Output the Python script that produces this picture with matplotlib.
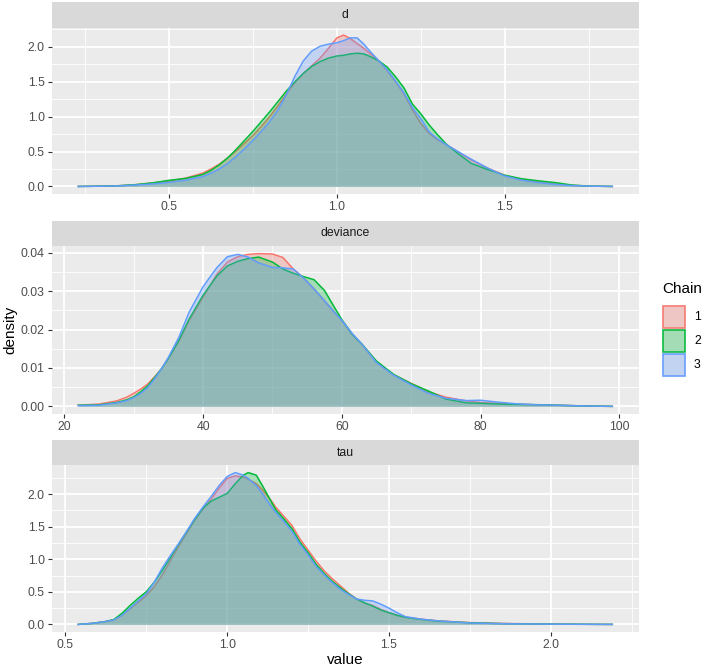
import matplotlib
matplotlib.use("Agg")
import matplotlib.pyplot as plt
from matplotlib.patches import Rectangle
from matplotlib.ticker import MultipleLocator, FormatStrFormatter
import numpy as np

plt.rcParams['font.family'] = ['Liberation Sans', 'DejaVu Sans']

# ---- data (density estimates per chain) ----
d_x = [0.23, 0.30, 0.35, 0.40, 0.45, 0.50, 0.55, 0.60, 0.625, 0.65, 0.675, 0.70,
       0.725, 0.75, 0.775, 0.80, 0.825, 0.85, 0.875, 0.90, 0.925, 0.95, 0.975,
       1.00, 1.02, 1.04, 1.06, 1.08, 1.10, 1.125, 1.15, 1.175, 1.20, 1.225, 1.25,
       1.275, 1.30, 1.325, 1.35, 1.375, 1.40, 1.45, 1.50, 1.55, 1.60, 1.65, 1.70,
       1.75, 1.82]
d_chain1 = [0.00, 0.005, 0.01, 0.025, 0.05, 0.077, 0.12, 0.19, 0.25, 0.32, 0.41, 0.51,
            0.62, 0.73, 0.86, 1.00, 1.16, 1.33, 1.49, 1.62, 1.73, 1.84, 1.98,
            2.13, 2.17, 2.12, 2.05, 1.98, 1.90, 1.80, 1.66, 1.50, 1.33, 1.10, 0.90,
            0.76, 0.67, 0.60, 0.53, 0.45, 0.38, 0.26, 0.16, 0.10, 0.065, 0.035, 0.015,
            0.005, 0.00]
d_chain2 = [0.00, 0.004, 0.01, 0.025, 0.05, 0.087, 0.115, 0.17, 0.23, 0.31, 0.41, 0.53,
            0.66, 0.79, 0.93, 1.07, 1.22, 1.37, 1.50, 1.62, 1.72, 1.79, 1.84,
            1.87, 1.88, 1.90, 1.91, 1.90, 1.86, 1.80, 1.71, 1.57, 1.41, 1.18, 1.04,
            0.88, 0.74, 0.61, 0.51, 0.42, 0.33, 0.24, 0.16, 0.11, 0.08, 0.055, 0.02,
            0.005, 0.00]
d_chain3 = [0.00, 0.003, 0.008, 0.02, 0.035, 0.058, 0.09, 0.14, 0.19, 0.25, 0.33, 0.43,
            0.54, 0.66, 0.79, 0.93, 1.10, 1.32, 1.58, 1.80, 1.94, 2.01, 2.04,
            2.06, 2.09, 2.13, 2.13, 2.04, 1.93, 1.80, 1.67, 1.51, 1.34, 1.13, 0.97,
            0.78, 0.68, 0.60, 0.53, 0.46, 0.39, 0.26, 0.15, 0.09, 0.055, 0.03, 0.012,
            0.005, 0.00]

dev_x = [22, 25, 27.5, 29, 30, 31, 32, 33, 34, 35, 36.5, 38, 40, 42, 43.5, 45, 46.5,
         48, 50, 51.5, 53, 54.5, 56, 57.5, 59, 60, 61.5, 63, 65, 67.5, 70, 72.5, 75,
         78, 80, 82.5, 85, 88, 91, 95, 99]
dev_chain1 = [0.0003, 0.0006, 0.0014, 0.0024, 0.0034, 0.0045, 0.0058, 0.0077, 0.0098,
              0.0125, 0.0170, 0.0224, 0.0285, 0.0345, 0.0376, 0.0390, 0.0396, 0.0398,
              0.0397, 0.0388, 0.0358, 0.0335, 0.0306, 0.0275, 0.0244, 0.0224, 0.0188,
              0.0160, 0.0115, 0.0082, 0.0060, 0.0038, 0.0024, 0.0014, 0.0010, 0.0008,
              0.0006, 0.0004, 0.0003, 0.0001, 0.0]
dev_chain2 = [0.0003, 0.0004, 0.0010, 0.0017, 0.0025, 0.0038, 0.0053, 0.0075, 0.0098,
              0.0125, 0.0172, 0.0228, 0.0290, 0.0340, 0.0366, 0.0378, 0.0385, 0.0389,
              0.0376, 0.0358, 0.0347, 0.0338, 0.0330, 0.0302, 0.0256, 0.0226, 0.0188,
              0.0160, 0.0118, 0.0083, 0.0059, 0.0040, 0.0019, 0.0009, 0.0008, 0.0006,
              0.0005, 0.00045, 0.0003, 0.0001, 0.0]
dev_chain3 = [0.0002, 0.0003, 0.0009, 0.0015, 0.0023, 0.0034, 0.0049, 0.0072, 0.0098,
              0.0128, 0.0180, 0.0246, 0.0312, 0.0362, 0.0390, 0.0396, 0.0389, 0.0374,
              0.0362, 0.0361, 0.0358, 0.0334, 0.0306, 0.0275, 0.0244, 0.0224, 0.0190,
              0.0160, 0.0114, 0.0081, 0.0056, 0.0034, 0.0021, 0.0015, 0.0016, 0.0011,
              0.0007, 0.0004, 0.0003, 0.0001, 0.0]

tau_x = [0.54, 0.58, 0.62, 0.65, 0.675, 0.70, 0.725, 0.75, 0.775, 0.80, 0.825, 0.85,
         0.875, 0.90, 0.925, 0.95, 0.975, 1.00, 1.025, 1.05, 1.065, 1.09, 1.11, 1.13,
         1.15, 1.175, 1.20, 1.225, 1.25, 1.275, 1.30, 1.325, 1.35, 1.375, 1.40, 1.425,
         1.45, 1.475, 1.50, 1.525, 1.55, 1.60, 1.65, 1.75, 1.85, 1.95, 2.05, 2.19]
tau_chain1 = [0.0, 0.015, 0.04, 0.07, 0.14, 0.24, 0.34, 0.44, 0.58, 0.76, 0.98, 1.20,
              1.40, 1.60, 1.77, 1.92, 2.09, 2.24, 2.28, 2.26, 2.23, 2.16, 2.06, 1.94,
              1.80, 1.66, 1.52, 1.31, 1.14, 0.97, 0.82, 0.70, 0.59, 0.48, 0.39, 0.33,
              0.29, 0.23, 0.18, 0.14, 0.11, 0.08, 0.055, 0.028, 0.015, 0.008, 0.004, 0.0]
tau_chain2 = [0.0, 0.015, 0.04, 0.075, 0.17, 0.29, 0.40, 0.50, 0.65, 0.83, 1.03, 1.23,
              1.42, 1.61, 1.78, 1.89, 1.95, 2.01, 2.16, 2.29, 2.33, 2.29, 2.12, 1.94,
              1.76, 1.62, 1.47, 1.26, 1.10, 0.92, 0.78, 0.66, 0.56, 0.47, 0.39, 0.33,
              0.28, 0.22, 0.18, 0.14, 0.11, 0.075, 0.05, 0.025, 0.012, 0.006, 0.003, 0.0]
tau_chain3 = [0.0, 0.015, 0.04, 0.07, 0.14, 0.25, 0.36, 0.47, 0.65, 0.87, 1.06, 1.24,
              1.43, 1.63, 1.80, 1.96, 2.13, 2.27, 2.33, 2.29, 2.24, 2.13, 2.00, 1.85,
              1.72, 1.58, 1.43, 1.23, 1.07, 0.89, 0.76, 0.64, 0.54, 0.46, 0.39, 0.37,
              0.36, 0.31, 0.25, 0.18, 0.12, 0.08, 0.055, 0.022, 0.010, 0.006, 0.003, 0.0]

facets = ["d", "deviance", "tau"]
chains = ["1", "2", "3"]
colors = ["#F8766D", "#00BA38", "#619CFF"]

panel_data = [
    (d_x, [d_chain1, d_chain2, d_chain3], 0.5, "%.1f"),
    (dev_x, [dev_chain1, dev_chain2, dev_chain3], 20, "%d"),
    (tau_x, [tau_chain1, tau_chain2, tau_chain3], 0.5, "%.1f"),
]
y_steps = [0.5, 0.01, 0.5]
y_fmts = ["%.1f", "%.2f", "%.1f"]

# ---- layout in pixels ----
W, H = 704, 669
fig = plt.figure(figsize=(W / 100, H / 100), dpi=100)


def frac(x0, y0, x1, y1):
    return [x0 / W, 1 - y1 / H, (x1 - x0) / W, (y1 - y0) / H]


px_left, px_right = 51.6, 639
panel_rows = [(2, 27.5, 194), (221, 246, 414), (440, 465, 632)]

for i, (name, (xs, ys, xstep, xfmt)) in enumerate(zip(facets, panel_data)):
    s_top, p_top, p_bot = panel_rows[i]
    # strip
    sax = fig.add_axes(frac(px_left, s_top, px_right, p_top))
    sax.set_facecolor("#D9D9D9")
    sax.set_xticks([])
    sax.set_yticks([])
    for sp in sax.spines.values():
        sp.set_visible(False)
    sax.text(0.5, 0.5, name, ha="center", va="center", fontsize=8.8,
             color="#1A1A1A", transform=sax.transAxes)

    ax = fig.add_axes(frac(px_left, p_top, px_right, p_bot))
    ax.set_facecolor("#EBEBEB")
    for k in range(3):
        x = np.array(xs)
        y = np.array(ys[k])
        ax.fill_between(x, 0, y, color=colors[k], alpha=0.3, lw=0, zorder=3 + 2 * k)
        ax.plot(x, y, color=colors[k], lw=1.1, zorder=4 + 2 * k)

    xmin, xmax = min(xs), max(xs)
    xr = xmax - xmin
    ax.set_xlim(xmin - 0.05 * xr, xmax + 0.05 * xr)
    ymax = max(max(c) for c in ys)
    ax.set_ylim(-0.05 * ymax, ymax * 1.05)

    ax.xaxis.set_major_locator(MultipleLocator(xstep))
    ax.xaxis.set_minor_locator(MultipleLocator(xstep / 2))
    ax.yaxis.set_major_locator(MultipleLocator(y_steps[i]))
    ax.yaxis.set_minor_locator(MultipleLocator(y_steps[i] / 2))
    ax.xaxis.set_major_formatter(FormatStrFormatter(xfmt))
    ax.yaxis.set_major_formatter(FormatStrFormatter(y_fmts[i]))

    ax.grid(which="major", color="white", lw=1.3, zorder=1)
    ax.grid(which="minor", color="white", lw=0.6, zorder=1)
    ax.set_axisbelow(True)
    for sp in ax.spines.values():
        sp.set_visible(False)
    ax.tick_params(which="major", length=2.75, width=0.8, color="#333333",
                   labelsize=8.8, labelcolor="#4D4D4D", pad=2.2)
    ax.tick_params(which="minor", length=0)

fig.text(10 / W, 1 - 330 / H, "density", rotation=90, ha="center", va="center",
         fontsize=11, color="black")
fig.text((px_left + px_right) / 2 / W, 1 - 660 / H, "value", ha="center",
         va="center", fontsize=11, color="black")

# ---- legend ----
fig.text(662 / W, 1 - 289 / H, "Chain", ha="left", va="center", fontsize=11)
key_tops = [305, 329, 353]
for k, (lab, col) in enumerate(zip(chains, colors)):
    top = key_tops[k]
    fig.add_artist(Rectangle((662 / W, 1 - (top + 24) / H), 24 / W, 24 / H,
                             transform=fig.transFigure, facecolor="#EBEBEB",
                             edgecolor="none"))
    fig.add_artist(Rectangle((663 / W, 1 - (top + 23) / H), 22 / W, 22 / H,
                             transform=fig.transFigure, facecolor=col, alpha=0.3,
                             edgecolor="none"))
    fig.add_artist(Rectangle((663 / W, 1 - (top + 23) / H), 22 / W, 22 / H,
                             transform=fig.transFigure, facecolor="none",
                             edgecolor=col, lw=1.1))
    fig.text(694 / W, 1 - (top + 12) / H, lab, ha="left", va="center",
             fontsize=8.8, color="black")

fig.savefig("out.png", dpi=100)
